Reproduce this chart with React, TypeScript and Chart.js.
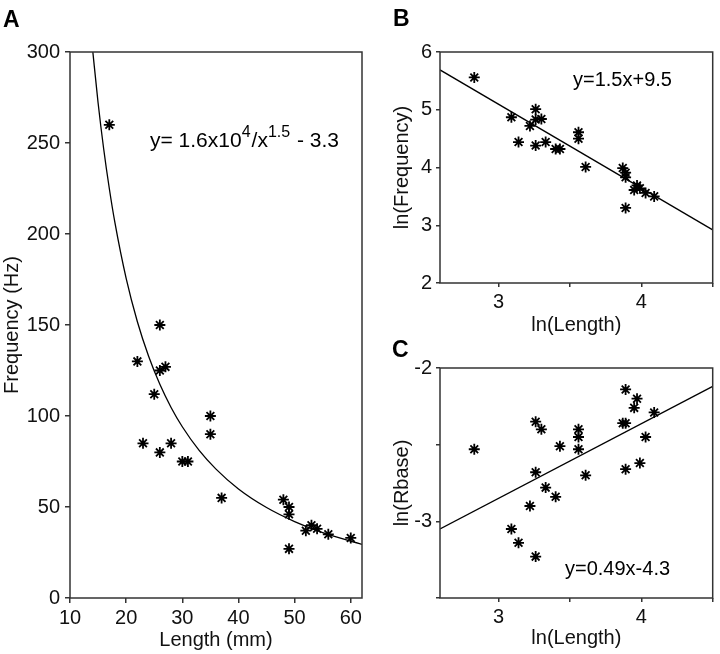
import React, { useEffect, useRef } from 'react';
import { Chart, registerables } from 'chart.js';

Chart.register(...registerables);

const FONT = "'Liberation Sans', Arial, Helvetica, sans-serif";
const AXIS_COLOR = '#333';

// ---------- Panel A: Frequency vs Length ----------
const lengthMm = [17, 22, 23, 25, 26, 26, 26, 27, 28, 30, 31, 35, 35, 37, 48, 49, 49, 49, 52, 53, 54, 56, 60];
const frequencyHz = [260, 130, 85, 112, 150, 125, 80, 127, 85, 75, 75, 100, 90, 55, 54, 50, 46, 27, 37, 40, 38, 35, 33];
const fitCurveX = [14, 15, 16, 17, 18, 20, 22, 24, 26, 28, 30, 33, 36, 40, 45, 50, 55, 62];
const fitCurveY = [302.1, 272.1, 246.7, 225.0, 206.2, 175.6, 151.8, 132.8, 117.4, 104.7, 94.1, 81.1, 70.8, 59.9, 49.7, 42.0, 35.9, 29.5];
const lengthTicks = [10, 20, 30, 40, 50, 60];
const lengthTickLabels = ['10', '20', '30', '40', '50', '60'];
const freqTicks = [0, 50, 100, 150, 200, 250, 300];
const freqTickLabels = ['0', '50', '100', '150', '200', '250', '300'];

// ---------- Panel B: ln(Frequency) vs ln(Length) ----------
const lnLengthB = [2.83, 3.09, 3.14, 3.22, 3.26, 3.26, 3.26, 3.30, 3.33, 3.40, 3.43, 3.56, 3.56, 3.61, 3.87, 3.89, 3.89, 3.89, 3.95, 3.97, 3.99, 4.03, 4.09];
const lnFreqB = [5.56, 4.87, 4.44, 4.72, 5.01, 4.83, 4.38, 4.84, 4.44, 4.32, 4.32, 4.61, 4.50, 4.01, 3.99, 3.91, 3.83, 3.30, 3.61, 3.69, 3.64, 3.56, 3.50];
const fitLineBX = [2.59, 4.5];
const fitLineBY = [5.69, 2.92];
const lnFreqTicks = [2, 3, 4, 5, 6];
const lnFreqTickLabels = ['2', '3', '4', '5', '6'];

// ---------- Panel C: ln(Rbase) vs ln(Length) ----------
const lnLengthC = [2.83, 3.09, 3.14, 3.22, 3.26, 3.26, 3.26, 3.30, 3.33, 3.40, 3.43, 3.56, 3.56, 3.56, 3.61, 3.87, 3.89, 3.89, 3.89, 3.95, 3.97, 3.99, 4.03, 4.09];
const lnRbaseC = [-2.53, -3.05, -3.14, -2.90, -2.35, -2.68, -3.23, -2.40, -2.78, -2.84, -2.51, -2.40, -2.45, -2.53, -2.70, -2.36, -2.36, -2.66, -2.14, -2.26, -2.20, -2.62, -2.45, -2.29];
const fitLineCX = [2.59, 4.5];
const fitLineCY = [-3.05, -2.12];
const lnRbaseTicks = [-3.5, -3, -2.5, -2];
const lnRbaseTickLabels = ['', '-3', '', '-2'];

// shared ln(Length) axis
const lnLengthTicks = [3, 3.5, 4, 4.5];
const lnLengthTickLabels = ['3', '', '4', ''];

type Part = { t: string; sup?: boolean };
const eqA: Part[] = [
  { t: 'y= 1.6x10' },
  { t: '4', sup: true },
  { t: '/x' },
  { t: '1.5', sup: true },
  { t: ' - 3.3' },
];
const eqB: Part[] = [{ t: 'y=1.5x+9.5' }];
const eqC: Part[] = [{ t: 'y=0.49x-4.3' }];

const boxPlugin = {
  id: 'box',
  afterDatasetsDraw(chart: any) {
    const { ctx, chartArea: a } = chart;
    ctx.save();
    ctx.strokeStyle = AXIS_COLOR;
    ctx.lineWidth = 1.5;
    ctx.strokeRect(a.left, a.top, a.right - a.left, a.bottom - a.top);
    ctx.restore();
  },
};

const panelText = {
  id: 'panelText',
  afterDraw(chart: any, _args: any, o: any) {
    const ctx = chart.ctx;
    ctx.save();
    ctx.fillStyle = '#000';
    ctx.textBaseline = 'alphabetic';
    ctx.textAlign = 'left';
    if (o.label) {
      ctx.font = `bold 23px ${FONT}`;
      ctx.fillText(o.label, o.labelX, o.labelY);
    }
    if (o.eq) {
      let x = o.eqX;
      for (const p of o.eq as Part[]) {
        ctx.font = p.sup ? `16px ${FONT}` : `${o.eqSize}px ${FONT}`;
        ctx.fillText(p.t, x, p.sup ? o.eqY - 10 : o.eqY);
        x += ctx.measureText(p.t).width + (p.sup ? 1 : 0);
      }
    }
    ctx.restore();
  },
};

function pts(xs: number[], ys: number[]) {
  return xs.map((x, i) => ({ x, y: ys[i] }));
}

function makeAxis(o: {
  min: number; max: number; ticks: number[]; labels: string[]; title: string;
  size: number; horizontal: boolean; tickLength: number; tickPad: number; titlePad: any;
}) {
  return {
    type: 'linear',
    min: o.min,
    max: o.max,
    afterBuildTicks: (s: any) => { s.ticks = o.ticks.map((v) => ({ value: v })); },
    afterFit: (s: any) => { if (o.horizontal) s.height = o.size; else s.width = o.size; },
    grid: { drawOnChartArea: false, drawTicks: true, tickLength: o.tickLength, color: AXIS_COLOR, lineWidth: 1.5 },
    border: { display: false },
    ticks: {
      color: '#111',
      font: { family: FONT, size: 20 },
      padding: o.tickPad,
      maxRotation: 0,
      autoSkip: false,
      callback: (_v: any, i: number) => o.labels[i],
    },
    title: { display: true, text: o.title, color: '#111', font: { family: FONT, size: 20 }, padding: o.titlePad },
  };
}

function makeConfig(datasets: any[], scales: any, padding: any, text: any) {
  return {
    type: 'scatter',
    data: { datasets },
    options: {
      responsive: false,
      animation: false,
      devicePixelRatio: 1,
      events: [],
      layout: { padding },
      plugins: { legend: { display: false }, tooltip: { enabled: false }, panelText: text },
      scales,
    },
    plugins: [boxPlugin, panelText],
  };
}

const starSet = (data: any[]) => ({
  label: 'data',
  data,
  showLine: false,
  pointStyle: 'star',
  pointRadius: 5.5,
  borderColor: '#000',
  backgroundColor: '#000',
  borderWidth: 1.8,
});

const lineSet = (data: any[]) => ({
  label: 'fit',
  data,
  showLine: true,
  pointRadius: 0,
  borderColor: '#000',
  borderWidth: 1.3,
  cubicInterpolationMode: 'monotone',
  fill: false,
});

function Panel({ left, top, width, height, config }: any) {
  const ref = useRef<HTMLCanvasElement>(null);
  useEffect(() => {
    const chart = new Chart(ref.current as HTMLCanvasElement, config());
    return () => chart.destroy();
  }, []);
  return (
    <canvas
      ref={ref}
      width={width}
      height={height}
      style={{ position: 'absolute', left, top, width, height }}
    />
  );
}

const configA = () =>
  makeConfig(
    [lineSet(pts(fitCurveX, fitCurveY)), starSet(pts(lengthMm, frequencyHz))],
    {
      x: makeAxis({ min: 10, max: 62, ticks: lengthTicks, labels: lengthTickLabels, title: 'Length (mm)', size: 56, horizontal: true, tickLength: 5, tickPad: 3, titlePad: { top: 0, bottom: 2 } }),
      y: makeAxis({ min: 0, max: 300, ticks: freqTicks, labels: freqTickLabels, title: 'Frequency (Hz)', size: 70, horizontal: false, tickLength: 5, tickPad: 5, titlePad: { top: 0, bottom: 0 } }),
    },
    { top: 52, right: 8, left: 0, bottom: 0 },
    { label: 'A', labelX: 3, labelY: 27, eq: eqA, eqX: 150, eqY: 147, eqSize: 21 }
  );

const configB = () =>
  makeConfig(
    [lineSet(pts(fitLineBX, fitLineBY)), starSet(pts(lnLengthB, lnFreqB))],
    {
      x: makeAxis({ min: 2.59, max: 4.5, ticks: lnLengthTicks, labels: lnLengthTickLabels, title: 'ln(Length)', size: 57, horizontal: true, tickLength: 4, tickPad: 3, titlePad: { top: 0, bottom: 3 } }),
      y: makeAxis({ min: 2, max: 6, ticks: lnFreqTicks, labels: lnFreqTickLabels, title: 'ln(Frequency)', size: 70, horizontal: false, tickLength: 4, tickPad: 4, titlePad: { top: 20, bottom: 0 } }),
    },
    { top: 52, right: 1, left: 0, bottom: 0 },
    { label: 'B', labelX: 23, labelY: 26, eq: eqB, eqX: 203, eqY: 86, eqSize: 20 }
  );

const configC = () =>
  makeConfig(
    [lineSet(pts(fitLineCX, fitLineCY)), starSet(pts(lnLengthC, lnRbaseC))],
    {
      x: makeAxis({ min: 2.59, max: 4.5, ticks: lnLengthTicks, labels: lnLengthTickLabels, title: 'ln(Length)', size: 56, horizontal: true, tickLength: 4, tickPad: 3, titlePad: { top: 0, bottom: 4 } }),
      y: makeAxis({ min: -3.5, max: -2, ticks: lnRbaseTicks, labels: lnRbaseTickLabels, title: 'ln(Rbase)', size: 70, horizontal: false, tickLength: 4, tickPad: 4, titlePad: { top: 20, bottom: 0 } }),
    },
    { top: 38, right: 1, left: 0, bottom: 0 },
    { label: 'C', labelX: 22, labelY: 27, eq: eqC, eqX: 195, eqY: 245, eqSize: 20 }
  );

export default function App() {
  useEffect(() => {
    document.body.style.margin = '0';
  }, []);
  return (
    <div style={{ position: 'relative', width: 720, height: 654, background: '#fff', overflow: 'hidden' }}>
      <Panel left={0} top={0} width={370} height={654} config={configA} />
      <Panel left={370} top={0} width={350} height={340} config={configB} />
      <Panel left={370} top={330} width={350} height={324} config={configC} />
    </div>
  );
}
